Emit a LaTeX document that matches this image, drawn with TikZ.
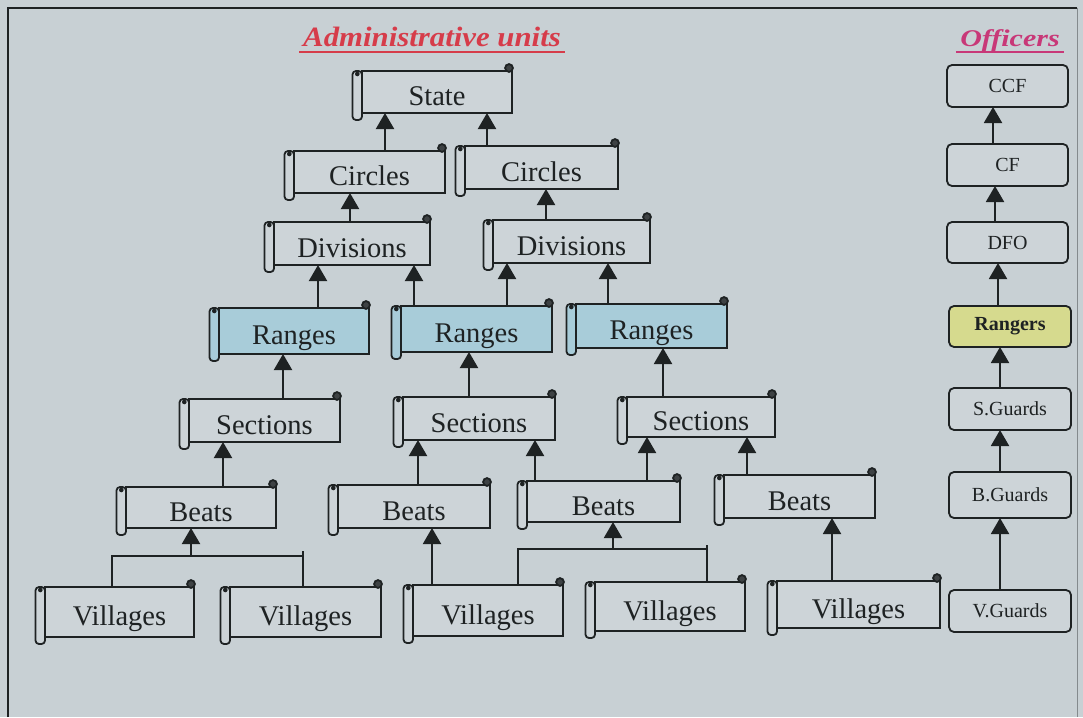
\documentclass[tikz,border=0pt]{standalone}
\usepackage{fontspec}
\setmainfont{Liberation Serif}
\usetikzlibrary{arrows.meta}

\definecolor{bg}{RGB}{200,208,212}
\definecolor{paper}{RGB}{205,212,216}
\definecolor{rangeblue}{RGB}{168,204,217}
\definecolor{rangeryellow}{RGB}{214,218,142}
\definecolor{inkc}{RGB}{30,34,35}
\definecolor{curlc}{RGB}{62,66,68}
\definecolor{titlered}{RGB}{214,60,74}
\definecolor{titlepink}{RGB}{200,56,120}

\tikzset{
  scrollmain/.style={draw=inkc, line width=1.8pt, rectangle, inner sep=0pt, outer sep=0pt,
    font=\fontsize{28.5}{30}\selectfont, text=inkc, text height=27pt, text depth=0pt},
  scrolledge/.style={draw=inkc, line width=1.8pt},
  up/.style={draw=inkc, line width=2pt, -{Triangle[width=18pt,length=16pt]}},
  link/.style={draw=inkc, line width=2pt},
  officer/.style={draw=inkc, line width=1.8pt, rounded corners=5pt, fill=paper,
    inner sep=0pt, outer sep=0pt, font=\fontsize{20}{22}\selectfont, text=inkc},
  titletext/.style={font=\fontsize{28}{30}\selectfont\bfseries\itshape, anchor=base},
}

% scroll: [fill]{name}{left}{top}{right}{bottom}{label}
\newcommand{\scrollnode}[7][paper]{%
  \node[scrollmain, fill=#1, minimum width={(#5-#3)*1pt}, minimum height={(#6-#4)*1pt}]
    (#2) at ({(#3+#5)/2},{(#4+#6)/2}) {#7};
  \draw[scrolledge, fill=#1, rounded corners=3.5pt]
    ([xshift=-9.5pt]#2.north west) rectangle ([yshift=-7pt]#2.south west);
  \fill[inkc] ([xshift=-4.7pt,yshift=-3pt]#2.north west) circle (2.3pt);
  \draw[scrolledge, fill=curlc] ([xshift=-3pt,yshift=3pt]#2.north east) circle (3.9pt);
}

% officer box: [fill]{name}{left}{top}{right}{bottom}{label}
\newcommand{\officerbox}[7][paper]{%
  \node[officer, fill=#1, minimum width={(#5-#3)*1pt}, minimum height={(#6-#4)*1pt}]
    (#2) at ({(#3+#5)/2},{(#4+#6)/2}) {#7};
}

\begin{document}
\begin{tikzpicture}[x=1pt, y=-1pt]
  \useasboundingbox (0,0) rectangle (1083,717);
  \fill[bg] (0,0) rectangle (1083,717);
  \draw[inkc, line width=2pt] (8,717) -- (8,8) -- (1077,8);
  \draw[inkc!40!bg, line width=1pt] (1077,8) -- (1077,717);

  % titles
  \node[titletext, text=titlered, xscale=1.1] (ttlA) at (432,47) {Administrative units};
  \draw[titlered, line width=2pt] ([yshift=-5pt]ttlA.base west) -- ([yshift=-5pt]ttlA.base east);
  \node[titletext, text=titlepink, font=\fontsize{24}{26}\selectfont\bfseries\itshape, xscale=1.25] (ttlB) at (1010,47) {Officers};
  \draw[titlepink, line width=2pt] ([yshift=-5pt]ttlB.base west) -- ([yshift=-5pt]ttlB.base east);

  % administrative units
  \scrollnode{state}{362}{71}{512}{113}{State}
  \scrollnode{circL}{294}{151}{445}{193}{Circles}
  \scrollnode{circR}{465}{146}{618}{189}{Circles}
  \scrollnode{divL}{274}{222}{430}{265}{Divisions}
  \scrollnode{divR}{493}{220}{650}{263}{Divisions}
  \scrollnode[rangeblue]{rngA}{219}{308}{369}{354}{Ranges}
  \scrollnode[rangeblue]{rngB}{401}{306}{552}{352}{Ranges}
  \scrollnode[rangeblue]{rngC}{576}{304}{727}{348}{Ranges}
  \scrollnode{secA}{189}{399}{340}{442}{Sections}
  \scrollnode{secB}{403}{397}{555}{440}{Sections}
  \scrollnode{secC}{627}{397}{775}{437}{Sections}
  \scrollnode{beatA}{126}{487}{276}{528}{Beats}
  \scrollnode{beatB}{338}{485}{490}{528}{Beats}
  \scrollnode{beatC}{527}{481}{680}{522}{Beats}
  \scrollnode{beatD}{724}{475}{875}{518}{Beats}
  \scrollnode{vilA}{45}{587}{194}{637}{Villages}
  \scrollnode{vilB}{230}{587}{381}{637}{Villages}
  \scrollnode{vilC}{413}{585}{563}{636}{Villages}
  \scrollnode{vilD}{595}{582}{745}{631}{Villages}
  \scrollnode{vilE}{777}{581}{940}{628}{Villages}

  % links between administrative units
  \draw[up] (circL.north -| 385,0) -- (state.south -| 385,0);
  \draw[up] (circR.north -| 487,0) -- (state.south -| 487,0);
  \draw[up] (divL.north -| 350,0) -- (circL.south -| 350,0);
  \draw[up] (divR.north -| 546,0) -- (circR.south -| 546,0);
  \draw[up] (rngA.north -| 318,0) -- (divL.south -| 318,0);
  \draw[up] (rngB.north -| 414,0) -- (divL.south -| 414,0);
  \draw[up] (rngB.north -| 507,0) -- (divR.south -| 507,0);
  \draw[up] (rngC.north -| 608,0) -- (divR.south -| 608,0);
  \draw[up] (secA.north -| 283,0) -- (rngA.south -| 283,0);
  \draw[up] (secB.north -| 469,0) -- (rngB.south -| 469,0);
  \draw[up] (secC.north -| 663,0) -- (rngC.south -| 663,0);
  \draw[up] (beatA.north -| 223,0) -- (secA.south -| 223,0);
  \draw[up] (beatB.north -| 418,0) -- (secB.south -| 418,0);
  \draw[up] (beatC.north -| 535,0) -- (secB.south -| 535,0);
  \draw[up] (beatC.north -| 647,0) -- (secC.south -| 647,0);
  \draw[up] (beatD.north -| 747,0) -- (secC.south -| 747,0);

  \coordinate (j1) at (191,556);
  \draw[link] (vilA.north -| 112,0) |- (j1) -| (vilB.north -| 303,0);
  \draw[link] (vilB.north -| 303,0) -- ++(0,-36);
  \draw[up] (j1) -- (beatA.south -| j1);

  \draw[up] (vilC.north -| 432,0) -- (beatB.south -| 432,0);

  \coordinate (j2) at (613,549);
  \draw[link] (vilC.north -| 518,0) |- (j2) -| (vilD.north -| 707,0);
  \draw[link] (vilD.north -| 707,0) -- ++(0,-37);
  \draw[up] (j2) -- (beatC.south -| j2);

  \draw[up] (vilE.north -| 832,0) -- (beatD.south -| 832,0);

  % officers
  \officerbox{ccf}{947}{65}{1068}{107}{CCF}
  \officerbox{cf}{947}{144}{1068}{186}{CF}
  \officerbox{dfo}{947}{222}{1068}{263}{DFO}
  \officerbox[rangeryellow]{rngr}{949}{306}{1071}{347}{\bfseries Rangers}
  \officerbox{sg}{949}{388}{1071}{430}{S.Guards}
  \officerbox{bg}{949}{472}{1071}{518}{B.Guards}
  \officerbox{vg}{949}{590}{1071}{632}{V.Guards}

  \draw[up] (cf.north -| 993,0) -- (ccf.south -| 993,0);
  \draw[up] (dfo.north -| 995,0) -- (cf.south -| 995,0);
  \draw[up] (rngr.north -| 998,0) -- (dfo.south -| 998,0);
  \draw[up] (sg.north -| 1000,0) -- (rngr.south -| 1000,0);
  \draw[up] (bg.north -| 1000,0) -- (sg.south -| 1000,0);
  \draw[up] (vg.north -| 1000,0) -- (bg.south -| 1000,0);
\end{tikzpicture}
\end{document}
